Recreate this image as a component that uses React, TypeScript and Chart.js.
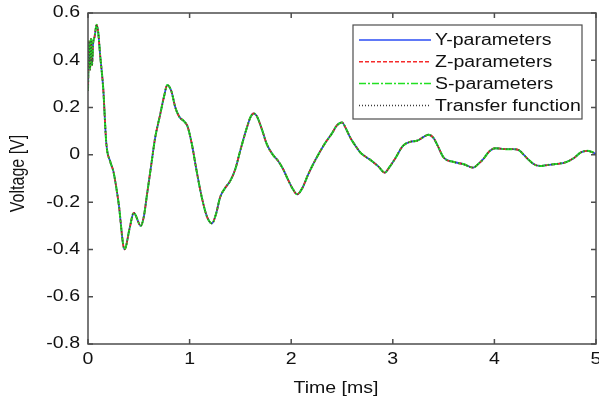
import React, { useEffect, useRef } from "react";
import { Chart, registerables } from "chart.js";

Chart.register(...registerables);

// ---- data ----
const timesMs = [
  0, 0.01, 0.02, 0.03, 0.04, 0.05, 0.065, 0.085, 0.1, 0.12, 0.15, 0.18, 0.22, 0.25, 0.3, 0.36,
  0.41, 0.45, 0.52, 0.55, 0.58, 0.62, 0.66, 0.71, 0.75, 0.78, 0.82, 0.86, 0.9, 0.95, 0.98,
  1.02, 1.07, 1.12, 1.17, 1.22, 1.26, 1.3, 1.35, 1.4, 1.45, 1.5, 1.56, 1.6, 1.63, 1.66, 1.71,
  1.76, 1.82, 1.87, 1.92, 1.96, 2.01, 2.06, 2.11, 2.17, 2.25, 2.33, 2.4, 2.45, 2.5, 2.54, 2.58,
  2.63, 2.68, 2.74, 2.79, 2.86, 2.92, 2.97, 3.02, 3.1, 3.17, 3.24, 3.3, 3.35, 3.4, 3.44, 3.5,
  3.6, 3.7, 3.79, 3.85, 3.89, 3.95, 4.01, 4.06, 4.12, 4.18, 4.24, 4.29, 4.33, 4.39, 4.45, 4.52,
  4.58, 4.64, 4.69, 4.75, 4.79, 4.85, 4.91, 4.96, 5.0,
];
const voltageV = [
  0.27, 0.48, 0.36, 0.49, 0.38, 0.47, 0.5, 0.55, 0.52, 0.42, 0.28, 0.05, -0.03, -0.07, -0.2, -0.4,
  -0.31, -0.245, -0.3, -0.26, -0.17, -0.05, 0.07, 0.17, 0.25, 0.295, 0.27, 0.2, 0.16, 0.14, 0.12,
  0.05, -0.07, -0.18, -0.26, -0.29, -0.25, -0.18, -0.14, -0.11, -0.06, 0.02, 0.11, 0.16, 0.175, 0.165, 0.11,
  0.045, 0.0, -0.025, -0.06, -0.097, -0.14, -0.167, -0.14, -0.08, -0.012, 0.047, 0.09, 0.125, 0.137, 0.11, 0.074,
  0.04, 0.01, -0.01, -0.025, -0.05, -0.075, -0.05, -0.018, 0.038, 0.055, 0.06, 0.075, 0.085, 0.072, 0.04, -0.011,
  -0.03, -0.04, -0.054, -0.035, -0.018, 0.015, 0.028, 0.026, 0.024, 0.024, 0.02, 0.0, -0.018, -0.04, -0.047, -0.043,
  -0.04, -0.037, -0.033, -0.022, -0.011, 0.01, 0.017, 0.012, 0.003,
];
const seriesLabels = ["Y-parameters", "Z-parameters", "S-parameters", "Transfer function"];
const xTicks = [0, 1, 2, 3, 4, 5];
const yTicks = [-0.8, -0.6, -0.4, -0.2, 0, 0.2, 0.4, 0.6];
const xTitle = "Time [ms]";
const yTitle = "Voltage [V]";

const FONT = "'Liberation Sans', Arial, sans-serif";
const SX = 1.22; // the reference's text is drawn horizontally widened
const TEXT = "#111111";
const AXIS = "#4d4d4d";

function fmt(v: number) {
  return String(Number(v.toFixed(1)));
}

function drawText(ctx: CanvasRenderingContext2D, text: string, x: number, y: number, align: CanvasTextAlign) {
  ctx.save();
  ctx.translate(x, y);
  ctx.scale(SX, 1);
  ctx.textAlign = align;
  ctx.textBaseline = "middle";
  ctx.fillText(text, 0, 0);
  ctx.restore();
}

const framePlugin = {
  id: "frame",
  afterDatasetsDraw(chart: any) {
    const { ctx, chartArea, scales } = chart;
    const { left, right, top, bottom } = chartArea;
    const x = scales.x;
    const y = scales.y;
    ctx.save();
    ctx.strokeStyle = AXIS;
    ctx.lineWidth = 1.5;
    ctx.setLineDash([]);
    ctx.strokeRect(left, top, right - left, bottom - top);
    ctx.beginPath();
    const tl = 5;
    xTicks.forEach((v) => {
      const px = x.getPixelForValue(v);
      ctx.moveTo(px, bottom);
      ctx.lineTo(px, bottom - tl);
      ctx.moveTo(px, top);
      ctx.lineTo(px, top + tl);
    });
    yTicks.forEach((v) => {
      const py = y.getPixelForValue(v);
      ctx.moveTo(left, py);
      ctx.lineTo(left + tl, py);
      ctx.moveTo(right, py);
      ctx.lineTo(right - tl, py);
    });
    ctx.stroke();

    // tick labels and titles
    ctx.fillStyle = TEXT;
    ctx.font = `16px ${FONT}`;
    xTicks.forEach((v) => drawText(ctx, fmt(v), x.getPixelForValue(v), bottom + 16, "center"));
    yTicks.forEach((v) => drawText(ctx, fmt(v), left - 8, y.getPixelForValue(v), "right"));
    drawText(ctx, xTitle, (left + right) / 2 - 6, bottom + 45, "center");
    ctx.save();
    ctx.translate(19, (top + bottom) / 2 - 5);
    ctx.rotate(-Math.PI / 2);
    ctx.scale(1, SX);
    ctx.textAlign = "center";
    ctx.textBaseline = "middle";
    ctx.fillText(yTitle, 0, 0);
    ctx.restore();

    // legend box
    const bx = 353, by = 25, bw = 229, bh = 94;
    ctx.fillStyle = "#ffffff";
    ctx.fillRect(bx, by, bw, bh);
    ctx.strokeStyle = AXIS;
    ctx.lineWidth = 1.2;
    ctx.strokeRect(bx, by, bw, bh);
    chart.data.datasets.forEach((ds: any, i: number) => {
      const ry = by + 15 + i * 21.8;
      ctx.beginPath();
      ctx.strokeStyle = ds.borderColor;
      ctx.lineWidth = 1.5;
      ctx.setLineDash(ds.borderDash || []);
      ctx.moveTo(bx + 6, ry);
      ctx.lineTo(bx + 78, ry);
      ctx.stroke();
      ctx.setLineDash([]);
      ctx.fillStyle = TEXT;
      drawText(ctx, ds.label, bx + 82, ry + 1, "left");
    });
    ctx.restore();
  },
};

export default function App() {
  const ref = useRef<HTMLCanvasElement>(null);
  useEffect(() => {
    document.body.style.margin = "0";
    const points = timesMs.map((t, i) => ({ x: t, y: voltageV[i] }));
    const styles = [
      { color: "#2b4cf5", dash: [] as number[], order: 4, width: 1.8 },
      { color: "#f52b2b", dash: [4, 2], order: 3, width: 1.8 },
      { color: "#22e022", dash: [7, 2, 2, 2], order: 2, width: 2 },
      { color: "#3a3a3a", dash: [1, 2], order: 1, width: 1.2 },
    ];
    const chart = new Chart(ref.current as HTMLCanvasElement, {
      type: "line",
      data: {
        datasets: seriesLabels.map((label, i) => ({
          label,
          data: points,
          borderColor: styles[i].color,
          borderDash: styles[i].dash,
          borderWidth: styles[i].width,
          pointRadius: 0,
          fill: false,
          cubicInterpolationMode: "monotone" as const,
          order: styles[i].order,
        })),
      },
      options: {
        animation: false,
        responsive: false,
        devicePixelRatio: 1,
        layout: { padding: { top: 13, right: 3, bottom: 0, left: 0 } },
        plugins: { legend: { display: false }, tooltip: { enabled: false } },
        scales: {
          x: {
            type: "linear",
            min: 0,
            max: 5,
            grid: { display: false, drawTicks: false },
            border: { display: false },
            ticks: { stepSize: 1, display: false },
            title: { display: false },
            afterFit(scale: any) {
              scale.height = 61;
              scale.paddingLeft = 0;
              scale.paddingRight = 0;
            },
          },
          y: {
            type: "linear",
            min: -0.8,
            max: 0.6,
            grid: { display: false, drawTicks: false },
            border: { display: false },
            ticks: { stepSize: 0.2, display: false },
            title: { display: false },
            afterFit(scale: any) {
              scale.width = 88;
              scale.paddingTop = 0;
              scale.paddingBottom = 0;
            },
          },
        },
      },
      plugins: [framePlugin],
    } as any);
    return () => chart.destroy();
  }, []);
  return <canvas ref={ref} width={599} height={405} style={{ display: "block" }} />;
}
